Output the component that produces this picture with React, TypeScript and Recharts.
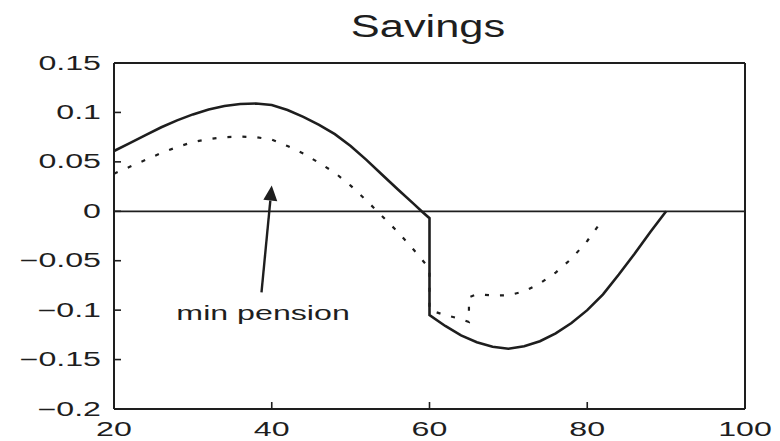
import { LineChart, Line, XAxis, YAxis, ReferenceLine, ReferenceDot, Label } from 'recharts';

const TITLE = 'Savings';

const AGE_TICKS = [20, 40, 60, 80, 100];
const SAVINGS_TICKS = [-0.2, -0.15, -0.1, -0.05, 0, 0.05, 0.1, 0.15];

// solid curve
const BASE_AGES = [
  20, 22, 24, 26, 28, 30, 32, 34, 36, 38, 40, 42, 44, 46, 48, 50, 52, 54, 56, 58, 59, 60,
  60, 62, 64, 66, 68, 70, 72, 74, 76, 78, 80, 82, 84, 86, 88, 90,
];
const BASE_SAVINGS = [
  0.061, 0.069, 0.077, 0.085, 0.092, 0.098, 0.103, 0.1065, 0.1085, 0.109, 0.1075, 0.1025, 0.0955,
  0.0875, 0.078, 0.066, 0.052, 0.037, 0.022, 0.0075, 0.0, -0.007,
  -0.105, -0.116, -0.1255, -0.1325, -0.137, -0.139, -0.1365, -0.1315, -0.1235, -0.113, -0.1,
  -0.084, -0.064, -0.043, -0.021, 0.0,
];

// dotted curve (min pension)
const MIN_PENSION_AGES = [
  20, 22, 24, 26, 28, 30, 32, 34, 36, 38, 40, 42, 44, 46, 48, 50, 52, 54, 56, 58, 60,
  60, 62, 64, 65, 65, 66, 68, 70, 72, 74, 76, 78, 80, 82,
];
const MIN_PENSION_SAVINGS = [
  0.038, 0.045, 0.052, 0.059, 0.065, 0.07, 0.073, 0.075, 0.0755, 0.075, 0.0725, 0.066, 0.0585,
  0.049, 0.039, 0.026, 0.011, -0.005, -0.021, -0.039, -0.058,
  -0.1, -0.105, -0.109, -0.112, -0.087, -0.084, -0.085, -0.085, -0.081, -0.073, -0.062, -0.048,
  -0.03, -0.008,
];

const ANNOTATION_TEXT = 'min pension';
const ANNOTATION_AT = { age: 38.9, value: -0.103 };
const ARROW_FROM = { age: 38.7, value: -0.082 };
const ARROW_TO = { age: 40.0, value: 0.026 };

const FONT = '"Liberation Sans", Arial, Helvetica, sans-serif';
const INK = '#1e1e1e';
const STRETCH = 1.65;
const TICK_LEN = 7;

const baseData = BASE_AGES.map((age, i) => ({ age, value: BASE_SAVINGS[i] }));
const pensionData = MIN_PENSION_AGES.map((age, i) => ({ age, value: MIN_PENSION_SAVINGS[i] }));

function formatTick(v: number) {
  return v < 0 ? '\u2212' + String(-v) : String(v);
}

function StretchedText({ x, y, anchor, size, children }: any) {
  return (
    <g transform={`translate(${x},${y}) scale(${STRETCH},1)`}>
      <text textAnchor={anchor} dominantBaseline="central" fontFamily={FONT} fontSize={size} fill={INK}>
        {children}
      </text>
    </g>
  );
}

function LeftTick({ x, y, payload }: any) {
  return (
    <g>
      <line x1={x + 13} x2={x + 13 + TICK_LEN} y1={y} y2={y} stroke={INK} strokeWidth={1.6} />
      <StretchedText x={x} y={y} anchor="end" size={19.5}>
        {formatTick(payload.value)}
      </StretchedText>
    </g>
  );
}

function BottomTick({ x, y, payload }: any) {
  return (
    <g>
      <line x1={x} x2={x} y1={y - 20} y2={y - 20 - TICK_LEN} stroke={INK} strokeWidth={1.6} />
      <StretchedText x={x} y={y} anchor="middle" size={19.5}>
        {payload.value}
      </StretchedText>
    </g>
  );
}

function TopTick({ x, y }: any) {
  return <line x1={x} x2={x} y1={y} y2={y + TICK_LEN - 1} stroke={INK} strokeWidth={1.6} />;
}

function RightTick({ x, y }: any) {
  return <line x1={x} x2={x - TICK_LEN + 1} y1={y} y2={y} stroke={INK} strokeWidth={1.6} />;
}

function TitleLabel({ viewBox }: any) {
  const cx = viewBox ? viewBox.x + viewBox.width / 2 - 1.5 : 428;
  return (
    <g transform={`translate(${cx},37) scale(1.4,1)`}>
      <text textAnchor="middle" fontFamily={FONT} fontSize={31} fill={INK}>
        {TITLE}
      </text>
    </g>
  );
}

function ArrowShape({ x1, y1, x2, y2 }: any) {
  const a = Math.atan2(y2 - y1, x2 - x1);
  const len = 15;
  const half = 7;
  const bx = x2 - len * Math.cos(a);
  const by = y2 - len * Math.sin(a);
  const px = -Math.sin(a) * half;
  const py = Math.cos(a) * half;
  return (
    <g>
      <line x1={x1} y1={y1} x2={bx} y2={by} stroke={INK} strokeWidth={2.4} />
      <polygon points={`${x2},${y2} ${bx + px},${by + py} ${bx - px},${by - py}`} fill={INK} />
    </g>
  );
}

function AnnotationText({ cx, cy }: any) {
  return (
    <StretchedText x={cx} y={cy} anchor="middle" size={19.5}>
      {ANNOTATION_TEXT}
    </StretchedText>
  );
}

export default function App() {
  const frame = { stroke: INK, strokeWidth: 2 };
  return (
    <div style={{ position: 'absolute', left: 0, top: 0, width: 780, height: 441, background: '#fff' }}>
      <LineChart width={780} height={441} margin={{ top: 43, right: 15, bottom: 2, left: 14 }}>
        <XAxis
          dataKey="age"
          type="number"
          domain={[20, 100]}
          ticks={AGE_TICKS}
          interval={0}
          height={30}
          tickSize={0}
          tickMargin={20}
          tickLine={false}
          axisLine={frame}
          tick={BottomTick}
        />
        <XAxis
          xAxisId="top"
          orientation="top"
          dataKey="age"
          type="number"
          domain={[20, 100]}
          ticks={AGE_TICKS}
          interval={0}
          height={20}
          tickSize={0}
          tickMargin={0}
          tickLine={false}
          axisLine={frame}
          tick={TopTick}
          label={<Label content={TitleLabel} />}
        />
        <YAxis
          type="number"
          domain={[-0.2, 0.15]}
          ticks={SAVINGS_TICKS}
          interval={0}
          width={100}
          tickSize={0}
          tickMargin={13}
          tickLine={false}
          axisLine={frame}
          tick={LeftTick}
        />
        <YAxis
          yAxisId="right"
          orientation="right"
          type="number"
          domain={[-0.2, 0.15]}
          ticks={SAVINGS_TICKS}
          interval={0}
          width={20}
          tickSize={0}
          tickMargin={0}
          tickLine={false}
          axisLine={frame}
          tick={RightTick}
        />
        <ReferenceLine y={0} stroke={INK} strokeWidth={1.8} />
        <Line
          data={pensionData}
          dataKey="value"
          type="linear"
          stroke={INK}
          strokeWidth={2.2}
          strokeDasharray="4 11"
          dot={false}
          isAnimationActive={false}
        />
        <Line
          data={baseData}
          dataKey="value"
          type="linear"
          stroke={INK}
          strokeWidth={2.6}
          dot={false}
          isAnimationActive={false}
        />
        <ReferenceLine
          segment={[
            { x: ARROW_FROM.age, y: ARROW_FROM.value },
            { x: ARROW_TO.age, y: ARROW_TO.value },
          ]}
          shape={ArrowShape}
        />
        <ReferenceDot x={ANNOTATION_AT.age} y={ANNOTATION_AT.value} r={0} shape={AnnotationText} />
      </LineChart>
    </div>
  );
}
